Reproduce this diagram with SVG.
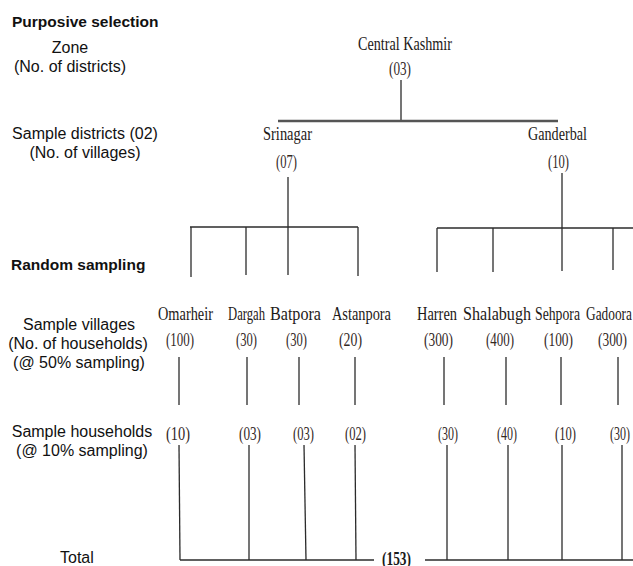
<svg xmlns="http://www.w3.org/2000/svg" width="633" height="566" viewBox="0 0 633 566">
<style>
.lbl{font-family:"Liberation Sans",Arial,sans-serif;font-size:16px;fill:#111;}
.bold{font-family:"Liberation Sans",Arial,sans-serif;font-size:15.5px;font-weight:bold;fill:#111;}
.nm{font-family:"Liberation Serif","Times New Roman",serif;font-size:19px;fill:#1e1a18;}
.num{font-family:"Liberation Serif","Times New Roman",serif;font-size:18.5px;fill:#33281f;}
.ln{stroke:#2b2b2b;stroke-width:1.3;fill:none;}
.thick{stroke:#555;stroke-width:2.6;fill:none;}
</style>
<rect width="633" height="566" fill="#fff"/>
<g id="labels">
<text class="bold" x="12" y="27">Purposive selection</text>
<text class="lbl" x="70" y="53" text-anchor="middle">Zone</text>
<text class="lbl" x="70" y="72" text-anchor="middle">(No. of districts)</text>
<text class="lbl" x="85" y="139" text-anchor="middle">Sample districts (02)</text>
<text class="lbl" x="85" y="158" text-anchor="middle">(No. of villages)</text>
<text class="bold" x="11" y="270">Random sampling</text>
<text class="lbl" x="79" y="330" text-anchor="middle">Sample villages</text>
<text class="lbl" x="78" y="349" text-anchor="middle">(No. of households)</text>
<text class="lbl" x="79" y="368" text-anchor="middle">(@ 50% sampling)</text>
<text class="lbl" x="82" y="437" text-anchor="middle">Sample households</text>
<text class="lbl" x="82" y="456" text-anchor="middle">(@ 10% sampling)</text>
<text class="lbl" x="60" y="563">Total</text>
</g>
<g id="connectors">
<line class="ln" x1="401" y1="80" x2="401" y2="121"/>
<line class="thick" x1="278" y1="121" x2="558" y2="121"/>
<line class="ln" x1="288" y1="177" x2="288" y2="275"/>
<line class="ln" x1="190" y1="227" x2="358" y2="227" style="stroke-width:1.6"/>
<line class="ln" x1="191" y1="227" x2="191" y2="277"/>
<line class="ln" x1="246" y1="227" x2="246" y2="275"/>
<line class="ln" x1="358" y1="227" x2="358" y2="276"/>
<line class="ln" x1="562" y1="173" x2="562" y2="271"/>
<line class="ln" x1="437" y1="228" x2="633" y2="228" style="stroke-width:1.6"/>
<line class="ln" x1="437" y1="228" x2="437" y2="272"/>
<line class="ln" x1="493" y1="228" x2="493" y2="272"/>
<line class="ln" x1="613" y1="228" x2="613" y2="270"/>
<line class="ln" x1="179" y1="357" x2="179" y2="405"/>
<line class="ln" x1="247" y1="357" x2="247" y2="405"/>
<line class="ln" x1="299" y1="357" x2="299" y2="405"/>
<line class="ln" x1="355" y1="357" x2="355" y2="405"/>
<line class="ln" x1="444" y1="357" x2="444" y2="405"/>
<line class="ln" x1="506" y1="357" x2="506" y2="405"/>
<line class="ln" x1="561" y1="357" x2="561" y2="405"/>
<line class="ln" x1="618" y1="357" x2="618" y2="405"/>
<line class="ln" x1="179" y1="445" x2="180" y2="560"/>
<line class="ln" x1="249" y1="445" x2="249" y2="560"/>
<line class="ln" x1="304" y1="445" x2="306" y2="560"/>
<line class="ln" x1="355" y1="445" x2="356" y2="560"/>
<line class="ln" x1="447" y1="445" x2="447" y2="560"/>
<line class="ln" x1="508" y1="445" x2="508" y2="560"/>
<line class="ln" x1="562" y1="445" x2="562" y2="560"/>
<line class="ln" x1="622" y1="445" x2="622" y2="560"/>
<line class="ln" x1="180" y1="560" x2="374" y2="560" style="stroke-width:1.6"/>
<line class="ln" x1="425" y1="560" x2="633" y2="560" style="stroke-width:1.6"/>
</g>
<g id="zone">
<text class="nm" x="358" y="50" textLength="94" lengthAdjust="spacingAndGlyphs">Central Kashmir</text>
<text class="num" x="389" y="75" textLength="22" lengthAdjust="spacingAndGlyphs">(03)</text>
</g>
<g id="srinagar">
<text class="nm" x="263" y="140" textLength="49" lengthAdjust="spacingAndGlyphs">Srinagar</text>
<text class="num" x="276" y="168" textLength="21" lengthAdjust="spacingAndGlyphs">(07)</text>
</g>
<g id="ganderbal">
<text class="nm" x="528" y="140" textLength="59" lengthAdjust="spacingAndGlyphs">Ganderbal</text>
<text class="num" x="548" y="168" textLength="21" lengthAdjust="spacingAndGlyphs">(10)</text>
</g>
<g id="omarheir">
<text class="nm" x="158" y="320" textLength="55" lengthAdjust="spacingAndGlyphs">Omarheir</text>
<text class="num" x="166" y="346" textLength="28" lengthAdjust="spacingAndGlyphs">(100)</text>
<text class="num" x="166" y="440" textLength="24" lengthAdjust="spacingAndGlyphs">(10)</text>
</g>
<g id="dargah">
<text class="nm" x="228" y="320" textLength="37" lengthAdjust="spacingAndGlyphs">Dargah</text>
<text class="num" x="236" y="346" textLength="21" lengthAdjust="spacingAndGlyphs">(30)</text>
<text class="num" x="239" y="440" textLength="22" lengthAdjust="spacingAndGlyphs">(03)</text>
</g>
<g id="batpora">
<text class="nm" x="270" y="320" textLength="51" lengthAdjust="spacingAndGlyphs">Batpora</text>
<text class="num" x="286" y="346" textLength="21" lengthAdjust="spacingAndGlyphs">(30)</text>
<text class="num" x="293" y="440" textLength="21" lengthAdjust="spacingAndGlyphs">(03)</text>
</g>
<g id="astanpora">
<text class="nm" x="332" y="320" textLength="59" lengthAdjust="spacingAndGlyphs">Astanpora</text>
<text class="num" x="339" y="346" textLength="23" lengthAdjust="spacingAndGlyphs">(20)</text>
<text class="num" x="345" y="440" textLength="21" lengthAdjust="spacingAndGlyphs">(02)</text>
</g>
<g id="harren">
<text class="nm" x="417" y="320" textLength="40" lengthAdjust="spacingAndGlyphs">Harren</text>
<text class="num" x="424" y="346" textLength="29" lengthAdjust="spacingAndGlyphs">(300)</text>
<text class="num" x="438" y="440" textLength="20" lengthAdjust="spacingAndGlyphs">(30)</text>
</g>
<g id="shalabugh">
<text class="nm" x="463" y="320" textLength="68" lengthAdjust="spacingAndGlyphs">Shalabugh</text>
<text class="num" x="486" y="346" textLength="28" lengthAdjust="spacingAndGlyphs">(400)</text>
<text class="num" x="497" y="440" textLength="20" lengthAdjust="spacingAndGlyphs">(40)</text>
</g>
<g id="sehpora">
<text class="nm" x="535" y="320" textLength="45" lengthAdjust="spacingAndGlyphs">Sehpora</text>
<text class="num" x="544" y="346" textLength="29" lengthAdjust="spacingAndGlyphs">(100)</text>
<text class="num" x="555" y="440" textLength="21" lengthAdjust="spacingAndGlyphs">(10)</text>
</g>
<g id="gadoora">
<text class="nm" x="586" y="320" textLength="46" lengthAdjust="spacingAndGlyphs">Gadoora</text>
<text class="num" x="598" y="346" textLength="29" lengthAdjust="spacingAndGlyphs">(300)</text>
<text class="num" x="610" y="440" textLength="20" lengthAdjust="spacingAndGlyphs">(30)</text>
</g>
<g id="total">
<text class="num" x="382" y="565" textLength="29" lengthAdjust="spacingAndGlyphs" style="font-weight:bold;fill:#1a1a1a">(153)</text>
</g>
</svg>
